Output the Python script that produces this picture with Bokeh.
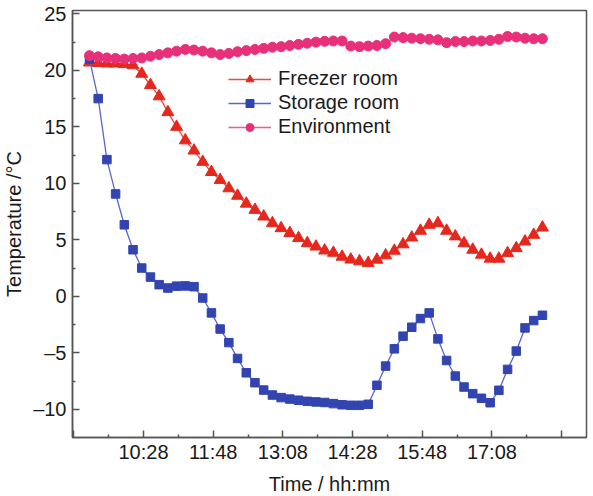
from bokeh.plotting import figure
from bokeh.models import FixedTicker, Legend, LegendItem
from bokeh.embed import file_html
from bokeh.resources import INLINE

times = ["09:26", "09:36", "09:46", "09:56",
         "10:06", "10:16", "10:26", "10:36", "10:46", "10:56",
         "11:06", "11:16", "11:26", "11:36", "11:46", "11:56",
         "12:06", "12:16", "12:26", "12:36", "12:46", "12:56",
         "13:06", "13:16", "13:26", "13:36", "13:46", "13:56",
         "14:06", "14:16", "14:26", "14:36", "14:46", "14:56",
         "15:06", "15:16", "15:26", "15:36", "15:46", "15:56",
         "16:06", "16:16", "16:26", "16:36", "16:46", "16:56",
         "17:06", "17:16", "17:26", "17:36", "17:46", "17:56",
         "18:06"]

freezer = [20.7, 20.65, 20.6, 20.6, 20.55, 20.45, 19.7, 18.7, 17.7, 16.3,
           15.0, 13.8, 12.9, 11.9, 11.0, 10.3, 9.56, 8.9, 8.2, 7.65,
           7.06, 6.47, 6.03, 5.6, 5.15, 4.7, 4.4, 4.05, 3.85, 3.5,
           3.25, 3.1, 2.95, 3.24, 3.62, 4.03, 4.6, 5.2, 5.8, 6.33,
           6.47, 5.8, 5.3, 4.7, 4.12, 3.68, 3.33, 3.33, 3.82, 4.26,
           4.85, 5.44, 6.09]

storage = [21.0, 17.5, 12.1, 9.06, 6.33, 4.12, 2.5, 1.7, 1.03, 0.73,
           0.9, 0.92, 0.85, -0.15, -1.47, -2.9, -4.1, -5.5, -6.77, -7.65,
           -8.3, -8.74, -8.97, -9.1, -9.2, -9.3, -9.35, -9.4, -9.5, -9.6,
           -9.65, -9.65, -9.56, -7.88, -6.18, -4.65, -3.53, -2.74, -1.97, -1.47,
           -3.77, -5.68, -7.06, -8.03, -8.62, -9.03, -9.42, -8.32, -6.47, -4.85,
           -2.8, -2.15, -1.68]

environment = [21.3, 21.2, 21.1, 21.05, 21.0, 21.05, 21.1, 21.25, 21.4, 21.55,
               21.7, 21.85, 21.8, 21.7, 21.55, 21.4, 21.5, 21.65, 21.75, 21.85,
               21.95, 22.05, 22.1, 22.2, 22.3, 22.4, 22.5, 22.57, 22.6, 22.6,
               22.15, 22.1, 22.15, 22.2, 22.36, 22.95, 22.9, 22.85, 22.8, 22.75,
               22.7, 22.45, 22.55, 22.55, 22.6, 22.6, 22.65, 22.75, 23.0, 22.95,
               22.85, 22.8, 22.8]

tick_labels = ["10:28", "11:48", "13:08", "14:28", "15:48", "17:08"]
extra_major_ticks = ["09:08", "18:28"]
minor_tick_times = ["09:48", "11:08", "12:28", "13:48", "15:08", "16:28", "17:48"]
y_labels = [-10, -5, 0, 5, 10, 15, 20, 25]
y_minor = [-7.5, -2.5, 2.5, 7.5, 12.5, 17.5, 22.5]


def to_min(s):
    h, m = s.split(":")
    return int(h) * 60 + int(m)


x = [to_min(t) for t in times]

FONT = "Liberation Sans"
FS = "20px"

p = figure(frame_width=514, frame_height=427, width=593, height=496,
           x_range=(546.5, 1136.6), y_range=(-12.5, 25.3),
           output_backend="svg", toolbar_location=None,
           min_border_left=71, min_border_right=8, min_border_top=10, min_border_bottom=59)
p.background_fill_color = "white"
p.border_fill_color = "white"
p.xgrid.visible = False
p.ygrid.visible = False
p.outline_line_color = "#555555"
p.outline_line_width = 1.5

major_x = [to_min(t) for t in tick_labels] + [to_min(t) for t in extra_major_ticks]
p.xaxis.ticker = FixedTicker(ticks=sorted(major_x),
                             minor_ticks=[to_min(t) for t in minor_tick_times])
overrides = {to_min(t): t for t in tick_labels}
for t in extra_major_ticks:
    overrides[to_min(t)] = ""
p.xaxis.major_label_overrides = overrides
p.yaxis.ticker = FixedTicker(ticks=y_labels, minor_ticks=y_minor)
p.yaxis.major_label_overrides = {v: (str(v).replace("-", "\u2013")) for v in y_labels}

for ax in (p.xaxis[0], p.yaxis[0]):
    ax.axis_line_color = "#555555"
    ax.axis_line_width = 1.5
    ax.major_tick_line_color = "#555555"
    ax.minor_tick_line_color = "#555555"
    ax.major_tick_line_width = 1.5
    ax.minor_tick_line_width = 1.5
    ax.major_tick_in = 7
    ax.major_tick_out = 0
    ax.minor_tick_in = 3
    ax.minor_tick_out = 0
    ax.major_label_text_font = FONT
    ax.major_label_text_font_size = FS
    ax.major_label_text_color = "#1a1a1a"
    ax.axis_label_text_font = FONT
    ax.axis_label_text_font_size = FS
    ax.axis_label_text_font_style = "normal"
    ax.axis_label_text_color = "#1a1a1a"

p.xaxis.axis_label = "Time / hh:mm"
p.yaxis.axis_label = "Temperature /\u00b0C"
p.xaxis.major_label_standoff = 3
p.xaxis.axis_label_standoff = 7
p.yaxis.major_label_standoff = 6
p.yaxis.axis_label_standoff = 5

series = [
    ("Freezer room", freezer, "triangle", 12, "#e5281d", "#ee4a42"),
    ("Storage room", storage, "square", 8.5, "#3244b0", "#5a66cc"),
    ("Environment", environment, "circle", 10, "#e8307a", "#ee5a92"),
]

items = []
for label, vals, marker, size, mcol, lcol in series:
    r1 = p.line(x, vals, line_color=lcol, line_width=1.3)
    r2 = p.scatter(x, vals, marker=marker, size=size, fill_color=mcol, line_color=mcol)
    items.append(LegendItem(label=label, renderers=[r1, r2]))

legend = Legend(items=items, location=(156, 299), orientation="vertical")
legend.background_fill_alpha = 0
legend.border_line_color = None
legend.label_text_font = FONT
legend.label_text_font_size = FS
legend.label_text_color = "#1a1a1a"
legend.glyph_width = 43
legend.glyph_height = 20
legend.label_height = 20
legend.spacing = 1
legend.padding = 0
legend.margin = 0
legend.label_standoff = 7
p.add_layout(legend, "center")

open("out.html", "w").write(file_html(p, INLINE))
